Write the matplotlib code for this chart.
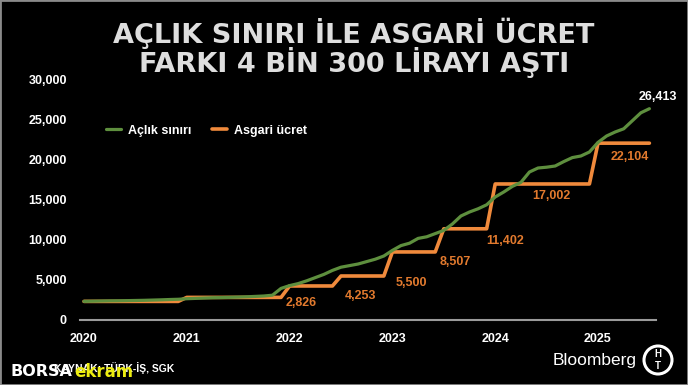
import numpy as np
import matplotlib.pyplot as plt
from matplotlib.patches import Rectangle, Ellipse

# monthly data, Jan 2020 .. Jul 2025
aclik = [
    2330, 2350, 2370, 2390, 2400, 2420, 2440, 2460, 2490, 2520, 2560, 2590,   # 2020
    2660, 2700, 2740, 2780, 2800, 2830, 2860, 2900, 2950, 3000, 3100, 3950,   # 2021
    4300, 4550, 4900, 5300, 5700, 6200, 6600, 6800, 7000, 7300, 7600, 8000,   # 2022
    8700, 9300, 9600, 10200, 10400, 10800, 11200, 12000, 13000, 13500, 13900, 14400,  # 2023
    15375, 16000, 16700, 17200, 18500, 19000, 19100, 19250, 19800, 20300, 20500, 21000,  # 2024
    22200, 23000, 23500, 23900, 24900, 25900, 26413,                          # 2025
]
asgari_levels = [2324.70, 2825.90, 4253.40, 5500.35, 8506.80, 11402.32, 17002.12, 22104.67]
asgari_months = [12, 12, 6, 6, 6, 6, 12, 7]
asgari = np.repeat(asgari_levels, asgari_months)

x = 2020 + np.arange(len(aclik)) / 12

# label texts and where they sit (year, value)
level_labels = ["2,826", "4,253", "5,500", "8,507", "11,402", "17,002", "22,104"]
label_x = [2022.11, 2022.69, 2023.18, 2023.61, 2024.10, 2024.55, 2025.31]
label_y = [2125, 3000, 4625, 7250, 9875, 15500, 20375]

GREEN = "#5e8f3e"
ORANGE = "#f08a3c"
ORANGE_TXT = "#e27a2e"

plt.rcParams["font.family"] = ["Liberation Sans", "DejaVu Sans"]

fig = plt.figure(figsize=(6.88, 3.85), dpi=100, facecolor="black")
ax = fig.add_axes([80 / 688, 65 / 385, 576 / 688, 240 / 385])
ax.set_facecolor("black")

ax.plot(x, aclik, color=GREEN, lw=2.3, label="Açlık sınırı", solid_capstyle="round", zorder=3)
ax.plot(x, asgari, color=ORANGE, lw=2.6, label="Asgari ücret", solid_capstyle="round", zorder=2)

for t, lx, ly in zip(level_labels, label_x, label_y):
    ax.text(lx, ly, t, color=ORANGE_TXT, fontsize=9, fontweight="bold",
            ha="center", va="center")
ax.text(2025.58, 27875, f"{aclik[-1]:,}", color="white", fontsize=9,
        fontweight="bold", ha="center", va="center")

ax.set_xlim(2020 - 4 / 102.8, 2020 + 572 / 102.8)
ax.set_ylim(0, 30000)
ax.set_yticks(range(0, 30001, 5000))
ax.set_yticklabels([f"{v:,}" for v in range(0, 30001, 5000)])
ax.set_xticks(range(2020, 2026))
for s in ["top", "right", "left"]:
    ax.spines[s].set_visible(False)
ax.spines["bottom"].set_color("#9a9a9a")
ax.spines["bottom"].set_linewidth(1.5)
ax.tick_params(axis="y", length=0, pad=9.4, colors="white", labelsize=9)
ax.tick_params(axis="x", length=0, pad=9, colors="white", labelsize=9)
for lab in ax.get_xticklabels() + ax.get_yticklabels():
    lab.set_fontweight("bold")

leg = ax.legend(loc="upper left", bbox_to_anchor=(0.025, 0.86), ncol=2, frameon=False,
                handlelength=1.2, handletextpad=0.6, columnspacing=1.6,
                prop={"weight": "bold", "size": 9})
for t in leg.get_texts():
    t.set_color("white")

# title
fig.text(354 / 688, 1 - 33 / 385, "AÇLIK SINIRI İLE ASGARİ ÜCRET", color="#dedede",
         fontsize=19.5, fontweight="bold", family="DejaVu Sans", ha="center", va="center")
fig.text(354 / 688, 1 - 62 / 385, "FARKI 4 BİN 300 LİRAYI AŞTI", color="#dedede",
         fontsize=19.5, fontweight="bold", family="DejaVu Sans", ha="center", va="center")

# footer (watermark sits over the source line, as in the original)
fig.text(54 / 688, 1 - 368 / 385, "KAYNAK: TÜRK-İŞ, SGK", color="white", fontsize=7.5,
         fontweight="bold", ha="left", va="center")
fig.text(11 / 688, 1 - 371 / 385, "BORSA", color="white", fontsize=11.5,
         fontweight="bold", ha="left", va="center", family="DejaVu Sans")
fig.text(74 / 688, 1 - 372 / 385, "ekram", color="#ecec10", fontsize=12,
         fontweight="bold", ha="left", va="center", family="DejaVu Sans")
fig.text(553 / 688, 1 - 360 / 385, "Bloomberg", color="white", fontsize=12.5,
         ha="left", va="center")
fig.patches.append(Ellipse((658 / 688, 1 - 360 / 385), 28 / 688, 28 / 385,
                           transform=fig.transFigure, facecolor="black",
                           edgecolor="white", lw=2.2))
fig.text(658 / 688, 1 - 354 / 385, "H", color="white", fontsize=7, fontweight="bold",
         ha="center", va="center")
fig.text(658 / 688, 1 - 366 / 385, "T", color="white", fontsize=7, fontweight="bold",
         ha="center", va="center")

# frame
fig.patches.append(Rectangle((0, 0), 1, 1, transform=fig.transFigure, fill=False,
                             edgecolor="#8a8a8a", lw=2))

fig.savefig("out.png", dpi=100, facecolor="black")
